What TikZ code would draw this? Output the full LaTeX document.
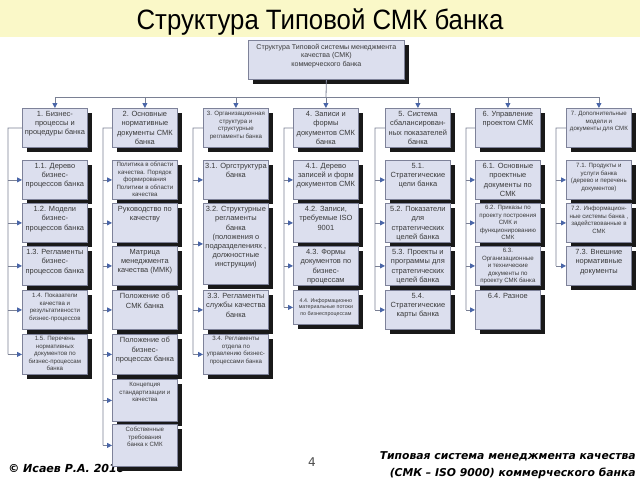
\documentclass[tikz,border=0pt]{standalone}
\usepackage{fontspec}
\setmainfont{Liberation Sans}
\newfontfamily\dvs{DejaVu Sans}
\usetikzlibrary{arrows.meta,shadows}
\newdimen\px \px=0.75pt
\definecolor{band}{HTML}{FAF8C8}
\definecolor{boxfill}{HTML}{DCDFEE}
\definecolor{boxline}{HTML}{7E8299}
\definecolor{lnc}{HTML}{7A8094}
\definecolor{arrc}{HTML}{4A66A8}
\definecolor{txc}{HTML}{3A3A3A}
\newcommand\fa{\fontsize{5.6}{6.9}\selectfont}
\newcommand\fb{\fontsize{4.6}{5.6}\selectfont}
\newcommand\fc{\fontsize{4}{4.9}\selectfont}
% name, left, top, height, top pad, font, text
\newcommand\bx[7]{\node[bx] (#1) at (#2,#3) {\parbox[t][#4\px][t]{65\px}{\vspace*{#5\px}\centering #6 #7\par}};}
\newcommand\bxw[8]{\node[bx] (#1) at (#2,#3) {\parbox[t][#4\px][t]{#8\px}{\vspace*{#5\px}\centering #6 #7\par}};}
\begin{document}
\begin{tikzpicture}[x=0.75pt,y=-0.75pt,
  bx/.style={draw=boxline, fill=boxfill, line width=0.6pt, inner sep=0pt, anchor=north west, text=txc,
    general shadow={fill=black!90, shadow xshift=3.4pt, shadow yshift=-3.4pt}},
  ln/.style={draw=lnc, line width=0.6pt},
  arr/.style={draw=lnc, line width=0.6pt, -{Triangle[length=3.6pt,width=3.6pt,color=arrc]}}]
\useasboundingbox (0,0) rectangle (640,480);
\fill[white] (0,0) rectangle (640,480);
\fill[band] (0,0) rectangle (640,37);
\node[anchor=base, inner sep=0pt, font=\fontsize{21}{25}\selectfont] (title) at (320,29) {\scalebox{0.92}[1]{Структура Типовой СМК банка}};
% footer
\node[anchor=base west, inner sep=0pt, font=\dvs\bfseries\itshape\fontsize{8.3}{10}\selectfont] (copy) at (8,472) {© Исаев Р.А. 2010};
\node[anchor=base, inner sep=0pt, text=black!70, font=\dvs\fontsize{9}{10}\selectfont] (pnum) at (312,466) {4};
\node[anchor=base east, inner sep=0pt, align=right, font=\dvs\bfseries\itshape\fontsize{8.1}{12.6}\selectfont] (foot) at (636,476) {Типовая система менеджмента качества\\(СМК – ISO 9000) коммерческого банка};
% top box
\bxw{top}{248}{40}{39}{4}{\fontsize{5.3}{6.2}\selectfont}{Структура Типовой системы менеджмента\\качества (СМК)\\коммерческого банка}{156}
% level 1
\bx{L1}{22}{108}{39}{3}{\fa}{1. Бизнес-\\процессы и\\процедуры банка}
\bx{L2}{112}{108}{39}{3}{\fa}{2. Основные\\нормативные\\документы СМК\\банка}
\bx{L3}{203}{108}{39}{3}{\fb}{3. Организационная\\структура и\\структурные\\регламенты банка}
\bx{L4}{293}{108}{39}{3}{\fa}{4. Записи и\\формы\\документов СМК\\банка}
\bx{L5}{385}{108}{39}{3}{\fa}{5. Система\\сбалансирован-\\ных показателей\\банка}
\bx{L6}{475}{108}{39}{3}{\fa}{6. Управление\\проектом СМК}
\bx{L7}{566}{108}{39}{3}{\fb}{7. Дополнительные\\модели и\\документы для СМК}
% column 1
\bx{c11}{22}{160}{39}{3}{\fa}{1.1. Дерево\\бизнес-\\процессов банка}
\bx{c12}{22}{203}{39}{3}{\fa}{1.2. Модели\\бизнес-\\процессов банка}
\bx{c13}{22}{246}{39}{3}{\fa}{1.3. Регламенты\\бизнес-\\процессов банка}
\bx{c14}{22}{290}{39}{3}{\fb}{1.4. Показатели\\качества и\\результативности\\бизнес-процессов}
\bx{c15}{22}{334}{40}{2}{\fb}{1.5. Перечень\\нормативных\\документов по\\бизнес-процессам\\банка}
% column 2
\bx{c21}{112}{160}{39}{2}{\fb}{Политика в области\\качества. Порядок\\формирования\\Политики в области\\качества}
\bx{c22}{112}{203}{39}{3}{\fa}{Руководство по\\качеству}
\bx{c23}{112}{246}{39}{3}{\fa}{Матрица\\менеджмента\\качества (ММК)}
\bx{c24}{112}{290}{39}{3}{\fa}{Положение об\\СМК банка}
\bx{c25}{112}{334}{40}{3}{\fa}{Положение об\\бизнес-\\процессах банка}
\bx{c26}{112}{379}{42}{3}{\fb}{Концепция\\стандартизации и\\качества}
\bx{c27}{112}{424}{42}{3}{\fb}{Собственные\\требования\\банка к СМК}
% column 3
\bx{c31}{203}{160}{39}{3}{\fa}{3.1. Оргструктура\\банка}
\bx{c32}{203}{203}{81}{3}{\fa}{3.2. Структурные\\регламенты\\банка\\(положения о\\подразделениях ,\\должностные\\инструкции)}
\bx{c33}{203}{290}{39}{3}{\fa}{3.3. Регламенты\\службы качества\\банка}
\bx{c34}{203}{334}{40}{2}{\fb}{3.4. Регламенты\\отдела по\\управлению бизнес-\\процессами банка}
% column 4
\bx{c41}{293}{160}{39}{3}{\fa}{4.1. Дерево\\записей и форм\\документов СМК}
\bx{c42}{293}{203}{39}{3}{\fa}{4.2. Записи,\\требуемые ISO\\9001}
\bx{c43}{293}{246}{39}{3}{\fa}{4.3. Формы\\документов по\\бизнес-\\процессам}
\bx{c44}{293}{290}{34}{8}{\fc}{4.4. Информационно\\материальные потоки\\по бизнеспроцессам}
% column 5
\bx{c51}{385}{160}{39}{3}{\fa}{5.1.\\Стратегические\\цели банка}
\bx{c52}{385}{203}{39}{3}{\fa}{5.2. Показатели\\для\\стратегических\\целей банка}
\bx{c53}{385}{246}{39}{3}{\fa}{5.3. Проекты и\\программы для\\стратегических\\целей банка}
\bx{c54}{385}{290}{39}{3}{\fa}{5.4.\\Стратегические\\карты банка}
% column 6
\bx{c61}{475}{160}{39}{3}{\fa}{6.1. Основные\\проектные\\документы по\\СМК}
\bx{c62}{475}{203}{39}{2}{\fb}{6.2. Приказы по\\проекту построения\\СМК и\\функционированию\\СМК}
\bx{c63}{475}{246}{39}{2}{\fb}{6.3.\\Организационные\\и технические\\документы по\\проекту СМК банка}
\bx{c64}{475}{290}{39}{3}{\fa}{6.4. Разное}
% column 7
\bx{c71}{566}{160}{39}{3}{\fb}{7.1. Продукты и\\услуги банка\\(дерево и перечень\\документов)}
\bx{c72}{566}{203}{39}{3}{\fb}{7.2. Информацион-\\ные системы банка ,\\задействованные в\\СМК}
\bx{c73}{566}{246}{39}{3}{\fa}{7.3. Внешние\\нормативные\\документы}
% main tree
\coordinate (hub) at (326,97);
\draw[ln] (top.south) -- (hub);
\draw[ln] (hub -| L1.north) -- (hub -| L7.north);
\foreach \i in {1,...,7} {\draw[arr] (hub -| L\i.north) -- (L\i.north);}
% column buses
\coordinate (b1) at (8,128);
\coordinate (b2) at (103,128);
\coordinate (b3) at (193,128);
\coordinate (b4) at (284,128);
\coordinate (b5) at (375,128);
\coordinate (b6) at (466,128);
\coordinate (b7) at (556,128);
\draw[ln] (L1.west) -- (b1) -- (b1 |- c15.west);
\draw[ln] (L2.west) -- (b2) -- (b2 |- c27.west);
\draw[ln] (L3.west) -- (b3) -- (b3 |- c34.west);
\draw[ln] (L4.west) -- (b4) -- (b4 |- c44.west);
\draw[ln] (L5.west) -- (b5) -- (b5 |- c54.west);
\draw[ln] (L6.west) -- (b6) -- (b6 |- c64.west);
\draw[ln] (L7.west) -- (b7) -- (b7 |- c73.west);
\foreach \j in {1,...,5} {\draw[arr] (b1 |- c1\j.west) -- (c1\j.west);}
\foreach \j in {1,...,7} {\draw[arr] (b2 |- c2\j.west) -- (c2\j.west);}
\foreach \j in {1,...,4} {\draw[arr] (b3 |- c3\j.west) -- (c3\j.west);}
\foreach \j in {1,...,4} {\draw[arr] (b4 |- c4\j.west) -- (c4\j.west);}
\foreach \j in {1,...,4} {\draw[arr] (b5 |- c5\j.west) -- (c5\j.west);}
\foreach \j in {1,...,4} {\draw[arr] (b6 |- c6\j.west) -- (c6\j.west);}
\foreach \j in {1,...,3} {\draw[arr] (b7 |- c7\j.west) -- (c7\j.west);}
\end{tikzpicture}
\end{document}
